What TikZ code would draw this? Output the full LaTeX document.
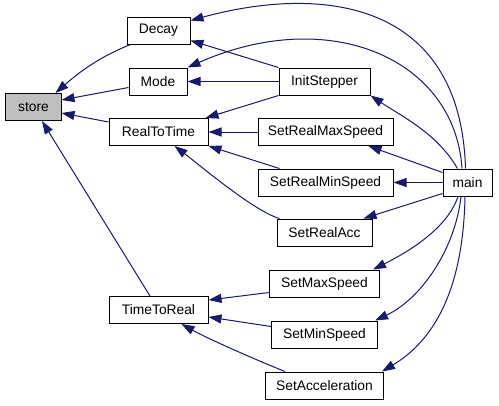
\documentclass[tikz,border=0pt]{standalone}
\usepackage{fontspec}
\setmainfont{Liberation Sans}
\usetikzlibrary{arrows.meta,calc}
\definecolor{edgecol}{HTML}{191970}
\definecolor{storefill}{HTML}{BFBFBF}
\begin{document}
\begin{tikzpicture}[x=1bp,y=-1bp,
  box/.style={draw=black, fill=white, line width=1bp, minimum height=27bp, inner sep=0pt,
    font=\fontsize{13.8bp}{16bp}\selectfont},
  edge/.style={draw=edgecol, line width=1bp, -{Triangle[length=13bp,width=9bp]}}]
\useasboundingbox (0,0) rectangle (499,405);
\node[box, fill=storefill, minimum width=55bp] (store) at (33.5,107) {store};
\node[box, minimum width=63bp] (Decay) at (158.5,30.5) {Decay};
\node[box, minimum width=58bp] (Mode) at (158,81.5) {Mode};
\node[box, minimum width=99bp] (RealToTime) at (158.5,132) {RealToTime};
\node[box, minimum width=99bp] (TimeToReal) at (158.5,310) {TimeToReal};
\node[box, minimum width=91bp] (InitStepper) at (324.5,81.5) {InitStepper};
\node[box, minimum width=135bp] (SetRealMaxSpeed) at (325.5,132) {SetRealMaxSpeed};
\node[box, minimum width=135bp] (SetRealMinSpeed) at (325.5,182.5) {SetRealMinSpeed};
\node[box, minimum width=49bp] (main) at (467.5,182.5) {main};
\node[box, minimum width=95bp] (SetRealAcc) at (324.5,232.5) {SetRealAcc};
\node[box, minimum width=110bp] (SetMaxSpeed) at (324.5,283.5) {SetMaxSpeed};
\node[box, minimum width=106bp] (SetMinSpeed) at (324.5,334.5) {SetMinSpeed};
\node[box, minimum width=118bp] (SetAcceleration) at (324.5,385.5) {SetAcceleration};

% calls into store
\draw[edge] ($(Decay.south west)+(4,0)$) .. controls +(-30,12) and +(25,-22) .. ($(store.north east)+(-6,0)$);
\draw[edge] ($(Mode.west)+(0,6)$) -- ($(store.east)+(0,-7)$);
\draw[edge] ($(RealToTime.west)+(0,-10)$) -- ($(store.east)+(0,6)$);
\draw[edge] ($(TimeToReal.north)+(-8.5,0)$) -- ($(store.south)+(8.5,0)$);

% calls from main
\draw[edge] ($(main.north)+(-2,0)$) .. controls +(-5,-169) and +(130,-35.5) .. ($(Decay.east)+(0,-10)$);
\draw[edge] ($(main.north)+(-5.5,0)$) .. controls +(-7,-109) and +(143,-63) .. (Mode.north east);
\draw[edge] ($(main.north)+(-10,0)$) .. controls +(-20,-35) and +(30,20) .. (InitStepper.south east);
\draw[edge] ($(main.north west)+(0,4)$) -- ($(SetRealMaxSpeed.south)+(43,0)$);
\draw[edge] (main.west) -- (SetRealMinSpeed.east);
\draw[edge] ($(main.south west)+(0,-3)$) -- ($(SetRealAcc.north east)+(-9,0)$);
\draw[edge] ($(main.south)+(-9.5,0)$) .. controls +(-10,30) and +(40,-20) .. ($(SetMaxSpeed.north east)+(-7,0)$);
\draw[edge] ($(main.south)+(-6.5,0)$) .. controls +(-6,54) and +(45,-21) .. ($(SetMinSpeed.north east)+(-3,0)$);
\draw[edge] ($(main.south)+(-2.5,0)$) .. controls +(-2,104) and +(45,-27) .. ($(SetAcceleration.north east)+(-2,0)$);

% InitStepper
\draw[edge] (InitStepper.north west) -- ($(Decay.east)+(0,10)$);
\draw[edge] (InitStepper.west) -- (Mode.east);
\draw[edge] (InitStepper.south west) -- ($(RealToTime.north east)+(-3,0)$);

% into RealToTime
\draw[edge] (SetRealMaxSpeed.west) -- (RealToTime.east);
\draw[edge] ($(SetRealMinSpeed.north west)+(22,0)$) -- (RealToTime.south east);
\draw[edge] ($(SetRealAcc.north west)+(3,0)$) .. controls +(-25,-7) and +(25,19) .. ($(RealToTime.south)+(16,0)$);

% into TimeToReal
\draw[edge] ($(SetMaxSpeed.west)+(0,9)$) -- ($(TimeToReal.east)+(0,-10)$);
\draw[edge] ($(SetMinSpeed.west)+(0,-8)$) -- ($(TimeToReal.east)+(0,7)$);
\draw[edge] ($(SetAcceleration.north west)+(20,0)$) .. controls +(-30,-12) and +(25,14) .. ($(TimeToReal.south)+(23,0)$);
\end{tikzpicture}
\end{document}
